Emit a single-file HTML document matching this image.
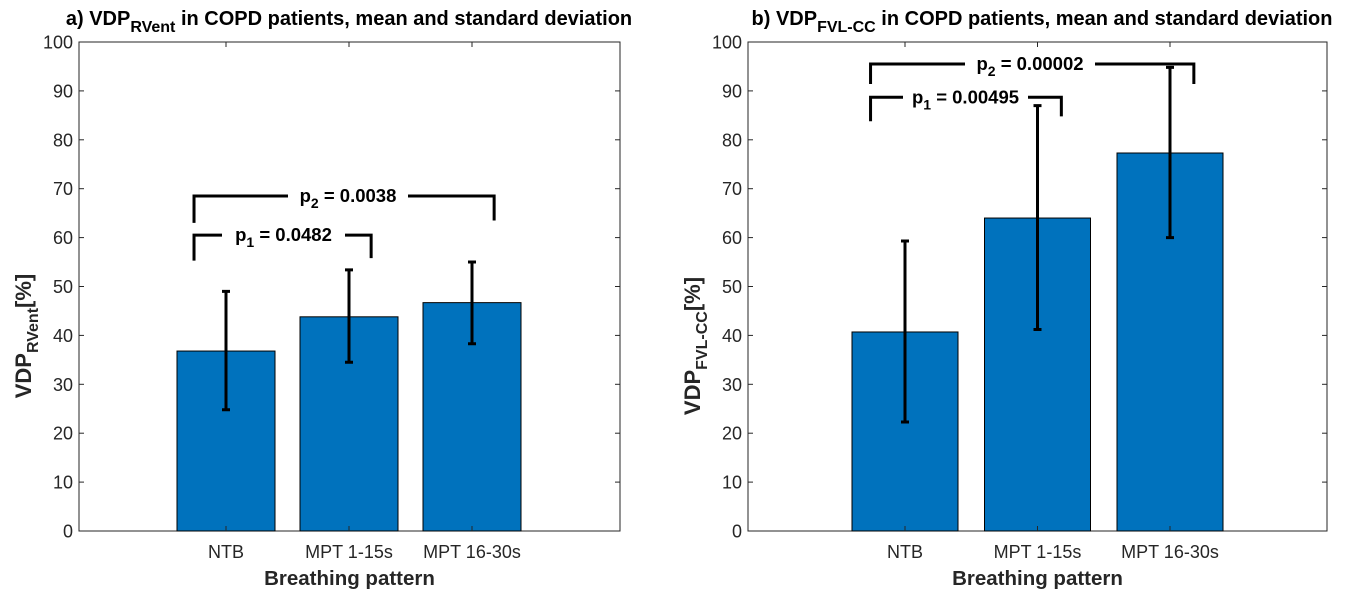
<!DOCTYPE html>
<html><head><meta charset="utf-8"><style>
html,body{margin:0;padding:0;background:#fff;}
svg{display:block;font-family:"Liberation Sans",Arial,sans-serif;}
</style></head><body>
<svg id="chart" width="1346" height="598" viewBox="0 0 1346 598"></svg>
<script>
const categories = ["NTB","MPT 1-15s","MPT 16-30s"];
const meansA = [36.8, 43.8, 46.7];
const lowA = [24.8, 34.5, 38.3];
const highA = [49.0, 53.4, 55.0];
const meansB = [40.7, 64.0, 77.3];
const lowB = [22.3, 41.2, 60.0];
const highB = [59.3, 87.0, 94.8];
const yTicks = [0,10,20,30,40,50,60,70,80,90,100];
const pLabelsA = ["0.0482","0.0038"];
const pLabelsB = ["0.00495","0.00002"];

const NS="http://www.w3.org/2000/svg";
const svg=document.getElementById('chart');
function mk(tag,attrs,parent){const e=document.createElementNS(NS,tag);for(const k in attrs)e.setAttribute(k,attrs[k]);(parent||svg).appendChild(e);return e;}

function panel(cfg){
  const g=mk('g',{});
  
  
  const y=v=>531-(v/100)*489;
  const x=i=>cfg.x0+i*cfg.dx;
  const box=mk('rect',{x:cfg.left,y:42,width:cfg.right-cfg.left,height:489,fill:'#fff',stroke:'#262626','stroke-width':1},g);
  
  
  yTicks.forEach(t=>{
    mk('line',{x1:cfg.left,x2:cfg.left+5,y1:y(t),y2:y(t),stroke:'#262626'},g);
    mk('line',{x1:cfg.right,x2:cfg.right-5,y1:y(t),y2:y(t),stroke:'#262626'},g);
    const tx=mk('text',{x:cfg.left-6,y:y(t)+6.5,'text-anchor':'end','font-size':18,fill:'#262626'},g);
    tx.textContent=t;
    
    
  });
  categories.forEach((c,i)=>{
    const cx=x(i);
    const bar=mk('rect',{x:cx-cfg.bw/2,y:y(cfg.means[i]),width:cfg.bw,height:y(0)-y(cfg.means[i]),fill:'#0072BD',stroke:'#000','stroke-width':1},g);
    
    
    mk('line',{x1:cx,x2:cx,y1:531,y2:526,stroke:'#262626'},g);
    mk('line',{x1:cx,x2:cx,y1:42,y2:47,stroke:'#262626'},g);
    const eb=mk('path',{d:`M${cx},${y(cfg.low[i])}V${y(cfg.high[i])}M${cx-4},${y(cfg.low[i])}H${cx+4}M${cx-4},${y(cfg.high[i])}H${cx+4}`,stroke:'#000','stroke-width':3,fill:'none'},g);
    
    
    const tl=mk('text',{x:cx,y:558,'text-anchor':'middle','font-size':18,fill:'#262626'},g);
    tl.textContent=c;
    
    
  });
  const xt=mk('text',{x:(cfg.left+cfg.right)/2,y:585,'text-anchor':'middle','font-size':20.5,'font-weight':'bold',fill:'#262626'},g);
  xt.textContent='Breathing pattern';
  
  
  const yt=mk('text',{transform:`translate(${cfg.left-48},${cfg.ytY}) rotate(-90)`,'text-anchor':'middle','font-size':22,'font-weight':'bold',fill:'#262626'},g);
  yt.innerHTML=`VDP<tspan font-size="16" dy="7">${cfg.sub}</tspan><tspan dy="-7">[%]</tspan>`;
  
  
  const tt=mk('text',{x:cfg.titleX,y:25,'text-anchor':'middle','font-size':20,'font-weight':'bold',fill:'#000'},g);
  tt.innerHTML=`${cfg.prefix} VDP<tspan font-size="16" dy="7">${cfg.sub}</tspan><tspan dy="-7"> in COPD patients, mean and standard deviation</tspan>`;
  
  
  cfg.brackets.forEach((b,k)=>{
    const xl=x(b.a)-cfg.dx*0.26, xr=x(b.b)+cfg.dx*0.18;
    const br=mk('path',{d:`M${xl},${y(b.l)}V${y(b.top)}H${b.t1}M${b.t2},${y(b.top)}H${xr}V${y(b.r)}`,stroke:'#000','stroke-width':3,fill:'none'},g);
    
    
    const pt=mk('text',{x:(b.t1+b.t2)/2,y:y(b.top)+6,'text-anchor':'middle','font-size':18.5,'font-weight':'bold',fill:'#000'},g);
    pt.innerHTML=`p<tspan font-size="14" dy="6">${k+1}</tspan><tspan dy="-6"> = ${b.label}</tspan>`;
    
    
  });
}
panel({name:'panel-a',left:79,right:620,x0:226,dx:123,bw:98,means:meansA,low:lowA,high:highA,sub:'RVent',prefix:'a)',titleX:349,ytY:336,
  brackets:[{a:0,b:1,top:60.5,l:55.3,r:55.8,t1:222,t2:345,label:pLabelsA[0]},{a:0,b:2,top:68.5,l:63,r:63.5,t1:288,t2:408,label:pLabelsA[1]}]});
panel({name:'panel-b',left:748,right:1327,x0:905,dx:132.5,bw:106,means:meansB,low:lowB,high:highB,sub:'FVL-CC',prefix:'b)',titleX:1042,ytY:346,
  brackets:[{a:0,b:1,top:88.7,l:83.8,r:84.8,t1:903,t2:1028,label:pLabelsB[0]},{a:0,b:2,top:95.5,l:91.4,r:91.4,t1:965,t2:1095,label:pLabelsB[1]}]});
</script>
</body></html>
